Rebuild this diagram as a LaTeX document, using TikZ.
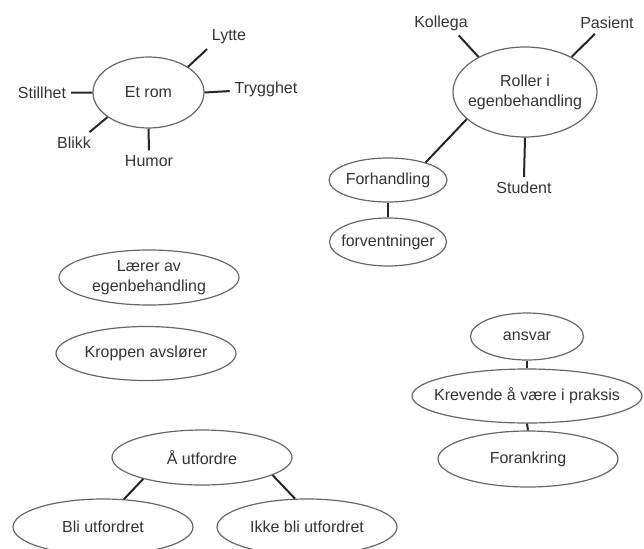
\documentclass[tikz,border=0pt]{standalone}
\usepackage{fontspec}
\setmainfont{Liberation Sans}
\usetikzlibrary{shapes.geometric}

\begin{document}
\begin{tikzpicture}[x=1pt, y=-1pt, font=\fontsize{16}{20}\selectfont,
    oval/.style={ellipse, draw=black!60, line width=1.2pt, inner xsep=-14pt, inner ysep=0pt, text=black!80, align=center},
    word/.style={inner sep=3pt, outer sep=2pt, text=black!80},
    spoke/.style={draw=black!85, line width=2pt}]
    \useasboundingbox (0,0) rectangle (644,548);
    \node[oval, minimum width=111pt, minimum height=71pt] (etrom) at (148.5,92.5) {Et rom};
    \node[word] (lytte) at (229,37) {Lytte};
    \node[word] (trygghet) at (266,89) {Trygghet};
    \node[word] (stillhet) at (42,93) {Stillhet};
    \node[word] (blikk) at (74,143) {Blikk};
    \node[word] (humor) at (149,161) {Humor};
    \node[oval, minimum width=144pt, minimum height=90pt] (roller) at (525,92) {Roller i\\egenbehandling};
    \node[word] (kollega) at (441,23) {Kollega};
    \node[word] (pasient) at (607,23) {Pasient};
    \node[word] (student) at (524,188) {Student};
    \node[oval, minimum width=118pt, minimum height=44pt] (forhandling) at (388,180) {Forhandling};
    \node[oval, minimum width=117pt, minimum height=48pt] (forventninger) at (388,242) {forventninger};
    \node[oval, minimum width=180pt, minimum height=55pt] (laerer) at (149,277.5) {Lærer av\\egenbehandling};
    \node[oval, minimum width=180pt, minimum height=54pt] (kroppen) at (146,353.5) {Kroppen avslører};
    \node[oval, minimum width=113pt, minimum height=47pt] (ansvar) at (527,336.5) {ansvar};
    \node[oval, minimum width=230pt, minimum height=54pt] (krevende) at (527,396) {Krevende å være i praksis};
    \node[oval, minimum width=180pt, minimum height=56pt] (forankring) at (528,459) {Forankring};
    \node[oval, minimum width=180pt, minimum height=55pt] (utfordre) at (202,457.5) {Å utfordre};
    \node[oval, minimum width=180pt, minimum height=56pt] (bli) at (103,527) {Bli utfordret};
    \node[oval, minimum width=180pt, minimum height=56pt] (ikke) at (307,527) {Ikke bli utfordret};
    \foreach \a/\b in {etrom.33/lytte.south west, etrom.east/trygghet, stillhet/etrom.west,
        etrom.211/blikk.35, etrom.south/humor.north, roller.143/kollega.-35, roller.37/pasient.-138,
        roller.south/student.north, roller.205/forhandling.25, forhandling.south/forventninger.north,
        ansvar.south/krevende.north, krevende.south/forankring.north, utfordre.200/bli.53, utfordre.-14/ikke.113}{
        \draw[spoke] (\a) -- (\b);
    }
\end{tikzpicture}
\end{document}
